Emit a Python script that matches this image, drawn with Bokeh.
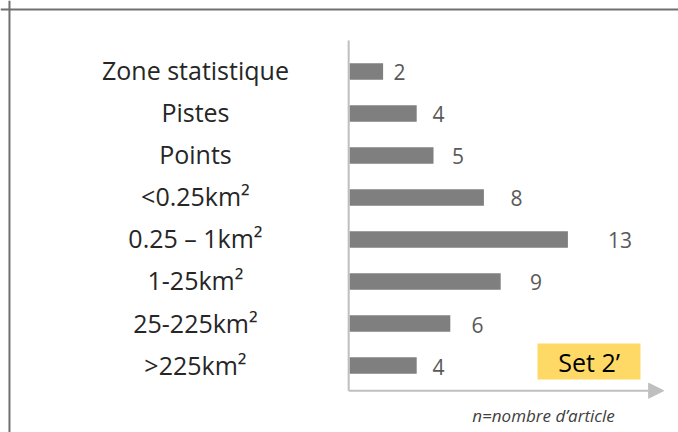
from bokeh.plotting import figure
from bokeh.models import Range1d, Span, Arrow, NormalHead, ColumnDataSource
from bokeh.core.properties import value
from bokeh.embed import file_html
from bokeh.resources import INLINE

categories = ["Zone statistique", "Pistes", "Points", "<0.25km²", "0.25 – 1km²",
              "1-25km²", "25-225km²", ">225km²"]
counts = [2, 4, 5, 8, 13, 9, 6, 4]
badge_text = "Set 2’"
note_text = "n=nombre d’article"

W, H = 678, 432
idx = list(range(len(categories)))
label_x = [0.3 + 1.16 * v for v in counts]

src = ColumnDataSource(dict(y=idx, v=counts, cat=categories, lx=label_x,
                            vt=[str(v) for v in counts]))

p = figure(width=W, height=H, output_backend="svg", toolbar_location=None,
           x_range=Range1d(-20.774, 19.583), y_range=Range1d(8.595, -1.690),
           min_border=0, outline_line_color=None)
p.axis.visible = False
p.grid.visible = False
p.background_fill_color = "white"
p.border_fill_color = "white"

# outer frame (top and left edges)
p.add_layout(Span(location=-1.476, dimension="width", line_color="#707070", line_width=2))
p.add_layout(Span(location=-20.24, dimension="height", line_color="#707070", line_width=2))

# bars
p.hbar(y="y", left=0, right="v", height=0.39, source=src,
       fill_color="#7f7f7f", line_color=None)

# axis lines
p.segment(x0=[-0.05], y0=[-0.738], x1=[-0.05], y1=[7.6], line_color="#bfbfbf", line_width=2)
p.add_layout(Arrow(end=NormalHead(size=15, fill_color="#bfbfbf", line_color="#bfbfbf"),
                   x_start=-0.05, y_start=7.6, x_end=18.7, y_end=7.6,
                   line_color="#bfbfbf", line_width=2))

# category labels
p.text(x=-9.17, y="y", text="cat", source=src, text_align="center",
       text_baseline="middle", text_font=value("Open Sans"), text_font_size="25px",
       text_color="#262626", y_offset=-1)

# value labels
p.text(x="lx", y="y", text="vt", source=src, text_align="left",
       text_baseline="middle", text_font=value("Open Sans"), text_font_size="21px",
       text_color="#595959", y_offset=1)

# Set badge
p.quad(left=[11.19], right=[17.32], top=[6.476], bottom=[7.333],
       fill_color="#ffd966", line_color=None)
p.text(x=[14.26], y=[6.905], text=[badge_text], text_align="center",
       text_baseline="middle", text_font=value("Open Sans"), text_font_size="25px",
       text_color="#000000")

# note
p.text(x=[11.55], y=[8.19], text=[note_text], text_align="center",
       text_baseline="middle", text_font=value("Open Sans"), text_font_size="17px",
       text_font_style="italic", text_color="#404040")

open("out.html", "w").write(file_html(p, INLINE))
